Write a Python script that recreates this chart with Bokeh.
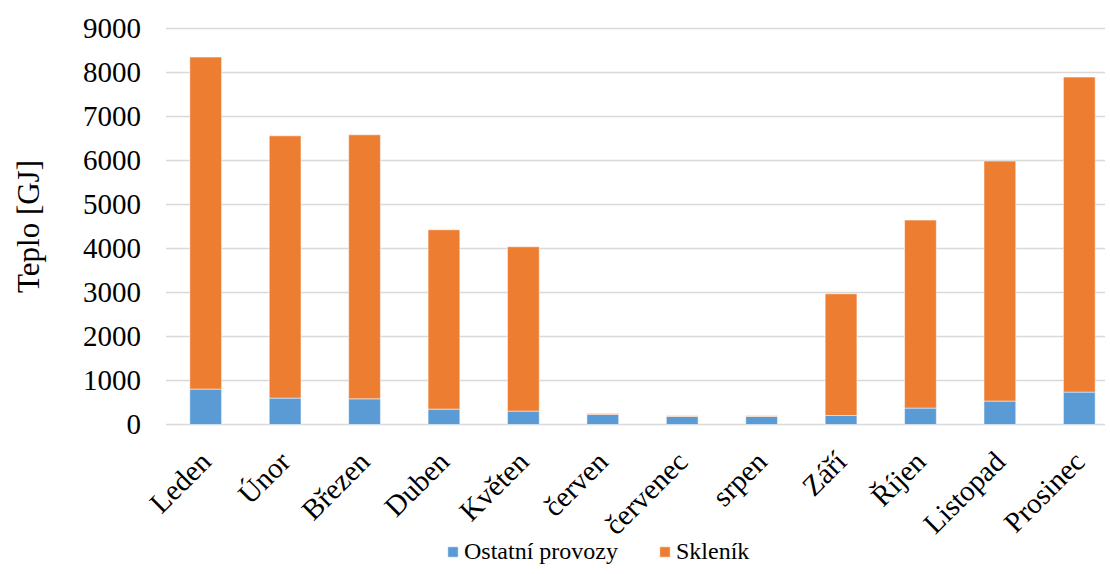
import numpy as np
from bokeh.plotting import figure
from bokeh.models import (Range1d, FixedTicker, Legend, LegendItem,
                          ColumnDataSource, Label)
from bokeh.embed import file_html
from bokeh.resources import INLINE

months = ["Leden", "Únor", "Březen", "Duben", "Květen", "červen",
          "červenec", "srpen", "Září", "Říjen", "Listopad", "Prosinec"]
ostatni = [805, 600, 584, 350, 304, 227, 182, 182, 205, 373, 532, 736]
sklenik = [7545, 5961, 6000, 4075, 3735, 23, 16, 16, 2765, 4272, 5454, 7159]
y_ticks = [0, 1000, 2000, 3000, 4000, 5000, 6000, 7000, 8000, 9000]
series_names = ["Ostatní provozy", "Skleník"]
y_title = "Teplo [GJ]"
colors = ["#5B9BD5", "#ED7D31"]

FONT = "Liberation Serif"
LEGEND_FONT = "'Liberation Serif', serif"

# ---- layout geometry (pixels) ----
W, H = 1105, 566
PLOT_L, PLOT_T, PLOT_B = 165.5, 28, 424     # plot area edges inside the canvas
X_END = 11.33                                # category units at right edge
px_x = (W - PLOT_L) / (X_END + 0.5)
px_y = (PLOT_B - PLOT_T) / y_ticks[-1]
x_start = -0.5 - PLOT_L / px_x
y_top = y_ticks[-1] + PLOT_T / px_y
y_bot = -(H - PLOT_B) / px_y

idx = list(range(len(months)))
src = ColumnDataSource(dict(x=idx, ostatni=ostatni, sklenik=sklenik))

p = figure(frame_width=W, frame_height=H,
           x_range=Range1d(x_start, X_END), y_range=Range1d(y_bot, y_top),
           output_backend="svg", toolbar_location=None,
           min_border=0, min_border_left=0, min_border_right=0,
           min_border_top=0, min_border_bottom=0)
p.outline_line_color = None
p.xgrid.visible = False
p.ygrid.visible = False

# horizontal gridlines across the plot area only
p.segment(x0=-0.5, x1=X_END, y0=y_ticks, y1=y_ticks,
          line_color="#D9D9D9", line_width=1.5)

rs = p.vbar_stack(["ostatni", "sklenik"], x="x", width=0.4, color=colors,
                  source=src, line_color="white", line_alpha=0.5, line_width=1)

# x axis at y = 0
p.xaxis.fixed_location = 0
p.xaxis.ticker = FixedTicker(ticks=idx)
p.xaxis.major_label_overrides = {i: m for i, m in zip(idx, months)}
p.xaxis.major_label_orientation = np.pi / 4
p.xaxis.major_label_standoff = 32

# y axis at the left edge of the plot area
p.yaxis.fixed_location = -0.5
p.yaxis.ticker = FixedTicker(ticks=y_ticks)
p.yaxis.major_label_standoff = 25

for ax in (p.xaxis, p.yaxis):
    ax.axis_line_color = None
    ax.major_tick_line_color = None
    ax.minor_tick_line_color = None
    ax.major_tick_out = 0
    ax.major_tick_in = 0
    ax.major_label_text_font = FONT
    ax.major_label_text_font_size = "29px"
    ax.major_label_text_color = "black"

# y axis title
p.add_layout(Label(x=-0.5 - (PLOT_L - 28) / px_x, y=y_ticks[-1] / 2,
                   text=y_title, angle=np.pi / 2,
                   text_align="center", text_baseline="middle",
                   text_font=FONT, text_font_size="31px", text_color="black"))

legend = Legend(items=[LegendItem(label=series_names[0], renderers=[rs[0]]),
                       LegendItem(label=series_names[1], renderers=[rs[1]])],
                orientation="horizontal", location=(446, 1),
                glyph_width=13, glyph_height=13, label_standoff=5,
                label_height=13, spacing=40, padding=0, margin=0,
                border_line_color=None, background_fill_alpha=0)
legend.label_text_font = LEGEND_FONT
legend.label_text_font_size = "24px"
legend.label_text_color = "black"
p.add_layout(legend, "center")

open("out.html", "w").write(file_html(p, INLINE))
